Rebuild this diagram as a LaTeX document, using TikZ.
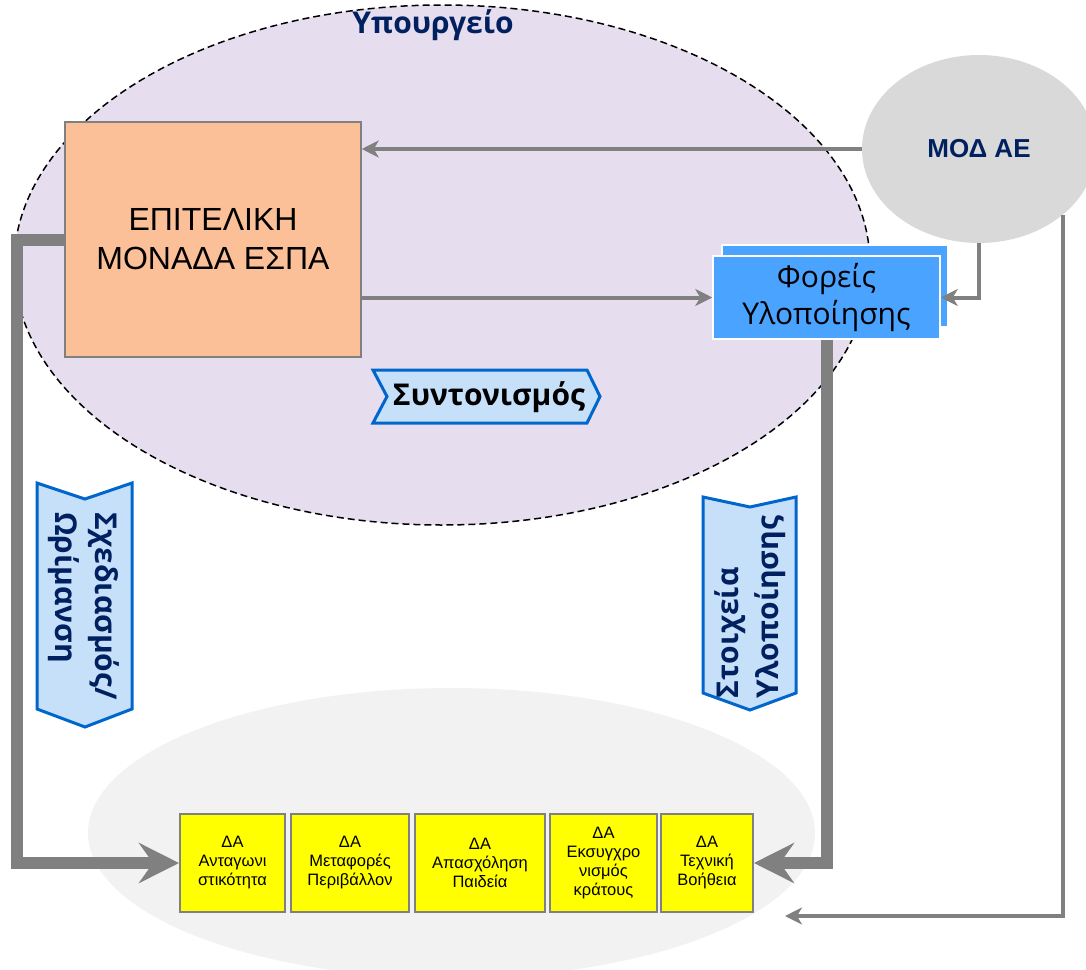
\documentclass[tikz,border=0pt]{standalone}
\usepackage{fontspec}
\setmainfont{Liberation Sans}
\newfontfamily\opensans{Open Sans}
\usetikzlibrary{shapes.geometric,arrows.meta}

\definecolor{lavender}{RGB}{230,221,239}
\definecolor{lightbase}{RGB}{242,242,242}
\definecolor{modgrey}{RGB}{217,217,217}
\definecolor{arrowgrey}{RGB}{128,128,128}
\definecolor{peach}{RGB}{252,192,152}
\definecolor{dayellow}{RGB}{255,255,0}
\definecolor{foreisblue}{RGB}{74,163,255}
\definecolor{chevfill}{RGB}{198,224,250}
\definecolor{chevline}{RGB}{0,102,204}
\definecolor{navy}{RGB}{0,32,96}

\tikzset{
  thinarrow/.style={draw=arrowgrey, line width=4pt, -{Stealth[length=17pt,width=17pt,inset=5pt]}},
  thickarrow/.style={draw=arrowgrey, line width=12pt, -{Stealth[length=40pt,width=40pt,inset=14pt]}},
  dabox/.style={rectangle, draw=arrowgrey, line width=2pt, fill=dayellow, minimum height=98pt, inner sep=0pt, align=center, font=\fontsize{16.5}{19}\selectfont},
  chev/.style={draw=chevline, fill=chevfill, line width=3pt, line join=miter},
  chevtext/.style={inner sep=0pt, align=left, text=navy, font=\opensans\bfseries\fontsize{30}{40}\selectfont}
}

\begin{document}
\begin{tikzpicture}[x=1pt,y=-1pt]
\useasboundingbox (0,0) rectangle (1086,969);
\clip (0,0) rectangle (1086,969);

% Ypourgeio and DA
\node[ellipse, fill=lavender, draw=black, line width=1.5pt, dash pattern=on 7pt off 4pt, minimum width=856pt, minimum height=520pt, inner sep=0pt] (ministry) at (442,265) {};
\node[ellipse, fill=lightbase, minimum width=727pt, minimum height=290pt, inner sep=0pt] (dabase) at (451.5,833) {};
\node[text=navy, font=\opensans\bfseries\fontsize{30}{34}\selectfont] (ministrytitle) at (433,25) {Υπουργείο};

\node[ellipse, fill=modgrey, minimum width=234pt, minimum height=188pt, inner sep=0pt, text=navy, font=\bfseries\fontsize{26}{30}\selectfont] (mod) at (979,149) {ΜΟΔ ΑΕ};

\node[rectangle, fill=peach, draw=arrowgrey, line width=1.5pt, minimum width=296pt, minimum height=235pt, align=center, font=\fontsize{32}{39}\selectfont] (epit) at (213,239.5) {ΕΠΙΤΕΛΙΚΗ\\ΜΟΝΑΔΑ ΕΣΠΑ};

\node[rectangle, fill=foreisblue, draw=white, line width=1.5pt, minimum width=226pt, minimum height=82pt] (foreisback) at (835,286) {};
\node[rectangle, fill=foreisblue, draw=white, line width=1.5pt, minimum width=227pt, minimum height=83pt, inner sep=0pt, align=center, font=\opensans\fontsize{30}{37}\selectfont] (foreis) at (826.5,297.5) {Φορείς\\Υλοποίησης};

\node[dabox, minimum width=105pt] (da1) at (232.5,863) {ΔΑ\\Ανταγωνι\\στικότητα};
\node[dabox, minimum width=118pt] (da2) at (350,863) {ΔΑ\\Μεταφορές\\Περιβάλλον};
\node[dabox, minimum width=130pt] (da3) at (480,863) {ΔΑ\\Απασχόληση\\Παιδεία};
\node[dabox, minimum width=107pt] (da4) at (603.5,863) {ΔΑ\\Εκσυγχρο\\νισμός\\κράτους};
\node[dabox, minimum width=92pt] (da5) at (707,863) {ΔΑ\\Τεχνική\\Βοήθεια};

\coordinate (modend) at (785,916);

% arrows
\draw[thinarrow] (mod.west) -- (mod.west -| epit.east);
\draw[thinarrow] (foreis.west -| epit.east) -- (foreis.west);
\draw[thinarrow] (mod.south) |- (foreis.east);
\draw[thinarrow] (mod.-38) |- (modend);
\draw[thickarrow] (epit.west) -- ++(-47,0) |- (da1.west);
\draw[thickarrow] (foreis.south) |- (da5.east);

% chevrons
\draw[chev] (373,370) -- (587,370) -- (600,396.5) -- (587,423) -- (373,423) -- (387,396.5) -- cycle;
\node[chevtext, text=black] (coordination) at (489,397) {Συντονισμός};

\draw[chev] (37,483) -- (85,499) -- (132,483) -- (132,709) -- (85,727) -- (37,709) -- cycle;
\node[chevtext, rotate=-90] (planning) at (84,606) {Σχεδιασμός/\\Ωρίμανση};

\draw[chev] (703,497) -- (750,507) -- (796,497) -- (796,693) -- (750,710) -- (703,693) -- cycle;
\node[chevtext, rotate=90] (implementation) at (750,607) {Στοιχεία\\Υλοποίησης};
\end{tikzpicture}
\end{document}
